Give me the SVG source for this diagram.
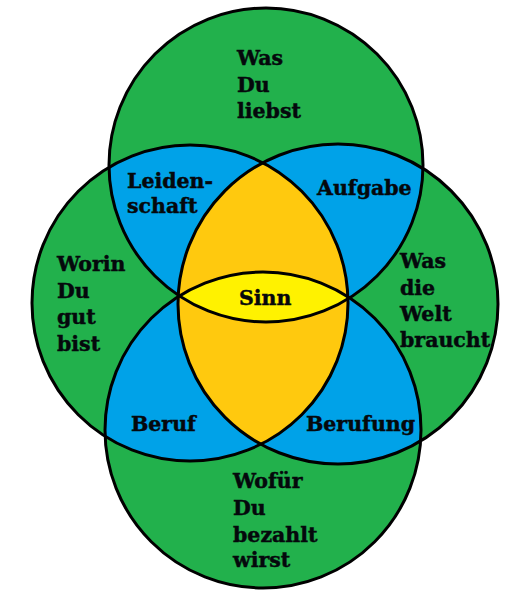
<svg xmlns="http://www.w3.org/2000/svg" width="525" height="600" viewBox="0 0 525 600">
<style>
.g{fill:#22b14c}
.b{fill:#00a2e8}
.o{fill:#ffc90e}
.y{fill:#fff200}
.ol{fill:none;stroke:#000;stroke-width:3}
text{font-family:"DejaVu Serif","Liberation Serif",serif;font-weight:bold;font-size:20.5px;fill:#05080c;stroke:#05080c;stroke-width:0.45}
</style>
<defs>
<clipPath id="cT"><circle cx="266" cy="165" r="157"/></clipPath>
<clipPath id="cB"><circle cx="263" cy="430" r="158"/></clipPath>
<clipPath id="cL"><circle cx="190" cy="303" r="158"/></clipPath>
<clipPath id="cR"><circle cx="338" cy="304" r="160"/></clipPath>
</defs>
<rect width="525" height="600" fill="#fff"/>
<g id="fills">
<circle class="g" cx="266" cy="165" r="157"/>
<circle class="g" cx="263" cy="430" r="158"/>
<circle class="g" cx="190" cy="303" r="158"/>
<circle class="g" cx="338" cy="304" r="160"/>
<g clip-path="url(#cT)"><circle class="b" cx="190" cy="303" r="158"/><circle class="b" cx="338" cy="304" r="160"/></g>
<g clip-path="url(#cB)"><circle class="b" cx="190" cy="303" r="158"/><circle class="b" cx="338" cy="304" r="160"/></g>
<g clip-path="url(#cL)"><circle class="o" cx="338" cy="304" r="160"/></g>
<g clip-path="url(#cT)"><circle class="y" cx="263" cy="430" r="158"/></g>
</g>
<g id="outlines">
<circle class="ol" cx="266" cy="165" r="157"/>
<circle class="ol" cx="263" cy="430" r="158"/>
<circle class="ol" cx="190" cy="303" r="158"/>
<circle class="ol" cx="338" cy="304" r="160"/>
</g>
<g id="node-liebst"><text x="237" y="65">Was</text><text x="237" y="92">Du</text><text x="237" y="118">liebst</text></g>
<g id="node-gut"><text x="57" y="271">Worin</text><text x="57" y="298">Du</text><text x="57" y="324">gut</text><text x="57" y="351">bist</text></g>
<g id="node-welt"><text x="400" y="268">Was</text><text x="400" y="295">die</text><text x="400" y="321">Welt</text><text x="400" y="347">braucht</text></g>
<g id="node-bezahlt"><text x="233" y="488">Wofür</text><text x="233" y="515">Du</text><text x="233" y="542">bezahlt</text><text x="233" y="567">wirst</text></g>
<g id="node-leidenschaft"><text x="127" y="188">Leiden-</text><text x="127" y="213">schaft</text></g>
<g id="node-aufgabe"><text x="317" y="195">Aufgabe</text></g>
<g id="node-beruf"><text x="131" y="431">Beruf</text></g>
<g id="node-berufung"><text x="306" y="431">Berufung</text></g>
<g id="node-sinn"><text x="239" y="305">Sinn</text></g>
</svg>
